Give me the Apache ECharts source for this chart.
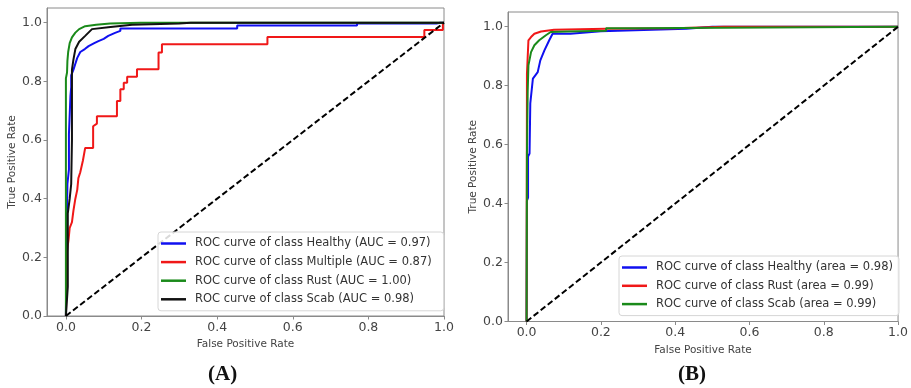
<!DOCTYPE html>
<html>
<head>
<meta charset="utf-8">
<script src="https://cdn.jsdelivr.net/npm/echarts@6/dist/echarts.min.js"></script>
<style>
  html, body { margin: 0; padding: 0; background: #fff; }
  #chart { width: 911px; height: 388px; }
</style>
</head>
<body>
<div id="chart"></div>
<script>
// tick labels shared by both panels
const TICKS = [0, 0.2, 0.4, 0.6, 0.8, 1.0]
const DIAG = [[0, 0], [1, 1]]

// panel (A): [fpr, tpr] corners
const healthyA = [[0, 0], [0.002, 0.3], [0.004, 0.45], [0.008, 0.5], [0.008, 0.62], [0.012, 0.75], [0.014, 0.78], [0.014, 0.82], [0.02, 0.84], [0.025, 0.86], [0.03, 0.88], [0.038, 0.9], [0.05, 0.91], [0.06, 0.92], [0.075, 0.93], [0.086, 0.937], [0.1, 0.945], [0.112, 0.955], [0.13, 0.965], [0.144, 0.972], [0.144, 0.98], [0.453, 0.98], [0.453, 0.99], [0.77, 0.99], [0.77, 0.997], [0.98, 0.997], [0.99, 1.0], [1, 1]]
const multipleA = [[0, 0], [0.003, 0.22], [0.007, 0.26], [0.01, 0.3], [0.016, 0.32], [0.02, 0.36], [0.025, 0.4], [0.03, 0.43], [0.033, 0.47], [0.038, 0.49], [0.045, 0.53], [0.051, 0.573], [0.072, 0.573], [0.072, 0.647], [0.082, 0.656], [0.082, 0.681], [0.135, 0.681], [0.135, 0.733], [0.144, 0.733], [0.144, 0.773], [0.153, 0.773], [0.153, 0.795], [0.162, 0.795], [0.162, 0.816], [0.188, 0.816], [0.188, 0.841], [0.245, 0.841], [0.245, 0.898], [0.254, 0.898], [0.254, 0.926], [0.533, 0.926], [0.533, 0.951], [0.948, 0.951], [0.948, 0.975], [0.997, 0.975], [0.997, 1.0], [1, 1]]
const rustA = [[0, 0], [0, 0.81], [0.003, 0.83], [0.004, 0.87], [0.006, 0.9], [0.01, 0.93], [0.016, 0.95], [0.025, 0.966], [0.035, 0.978], [0.051, 0.988], [0.08, 0.993], [0.117, 0.997], [0.197, 1.0], [1, 1]]
const scabA = [[0, 0], [0.005, 0.1], [0.005, 0.35], [0.01, 0.4], [0.014, 0.45], [0.016, 0.6], [0.016, 0.84], [0.02, 0.875], [0.025, 0.91], [0.035, 0.935], [0.051, 0.955], [0.069, 0.978], [0.112, 0.984], [0.175, 0.993], [0.3, 0.997], [0.33, 1.0], [1, 1]]

// panel (B)
const healthyB = [[0, 0], [0.001, 0.41], [0.004, 0.42], [0.004, 0.56], [0.008, 0.57], [0.01, 0.74], [0.017, 0.824], [0.03, 0.846], [0.037, 0.886], [0.048, 0.92], [0.061, 0.954], [0.07, 0.976], [0.118, 0.976], [0.118, 0.982], [0.2, 0.985], [0.2, 0.99], [0.43, 0.993], [0.5, 1.0], [1, 1]]
const rustB = [[0, 0], [0.001, 0.84], [0.005, 0.954], [0.012, 0.965], [0.021, 0.976], [0.039, 0.984], [0.074, 0.99], [0.214, 0.993], [0.4, 0.995], [0.53, 1.0], [1, 1]]
const scabB = [[0, 0], [0.001, 0.57], [0.003, 0.78], [0.005, 0.869], [0.012, 0.914], [0.021, 0.937], [0.034, 0.954], [0.052, 0.971], [0.065, 0.982], [0.109, 0.984], [0.214, 0.986], [0.214, 0.995], [0.294, 0.995], [0.294, 1.0], [1, 1]]

const NAMES_A = ['ROC curve of class Healthy (AUC = 0.97)', 'ROC curve of class Multiple (AUC = 0.87)', 'ROC curve of class Rust (AUC = 1.00)', 'ROC curve of class Scab (AUC = 0.98)']
const NAMES_B = ['ROC curve of class Healthy (area = 0.98)', 'ROC curve of class Rust (area = 0.99)', 'ROC curve of class Scab (area = 0.99)']

const FONT = 'DejaVu Sans'
const FRAME = '#8a8a8a'
const TEXT = '#444'

const chart = echarts.init(document.getElementById('chart'))

const makeX = gridIndex => ({
  type: 'value',
  gridIndex,
  min: -0.05,
  max: 1.0,
  name: 'False Positive Rate',
  nameLocation: 'middle',
  nameGap: 22,
  nameTextStyle: { fontFamily: FONT, fontSize: 10.5, color: TEXT },
  axisLine: { show: true, onZero: false, lineStyle: { color: FRAME, width: 1 } },
  axisTick: { show: true, length: 3.5, lineStyle: { color: FRAME }, customValues: TICKS },
  axisLabel: { fontFamily: FONT, fontSize: 12.5, color: TEXT, margin: 5, customValues: TICKS, formatter: v => v.toFixed(1) },
  splitLine: { show: false }
})
const makeY = gridIndex => ({
  type: 'value',
  gridIndex,
  min: 0,
  max: 1.05,
  name: 'True Positive Rate',
  nameLocation: 'middle',
  nameGap: 29,
  nameTextStyle: { fontFamily: FONT, fontSize: 10.5, color: TEXT },
  axisLine: { show: true, onZero: false, lineStyle: { color: FRAME, width: 1 } },
  axisTick: { show: true, length: 3.5, lineStyle: { color: FRAME }, customValues: TICKS },
  axisLabel: { fontFamily: FONT, fontSize: 12.5, color: TEXT, margin: 5, customValues: TICKS, formatter: v => v.toFixed(1) },
  splitLine: { show: false }
})

const curve = (name, data, color, idx) => ({
  name,
  type: 'line',
  xAxisIndex: idx,
  yAxisIndex: idx,
  data,
  color,
  symbol: 'none',
  lineStyle: { width: 2, color },
  silent: true
})
const diag = idx => ({
  type: 'line',
  xAxisIndex: idx,
  yAxisIndex: idx,
  data: DIAG,
  symbol: 'none',
  lineStyle: { width: 2, color: '#000', type: [6, 3] },
  silent: true,
  z: 3
})

const legendBase = {
  orient: 'vertical',
  icon: 'rect',
  itemWidth: 25,
  itemHeight: 2.5,
  selectedMode: false,
  borderColor: '#d6d6d6',
  borderWidth: 1,
  borderRadius: 3,
  backgroundColor: 'rgba(255,255,255,0.85)',
  textStyle: { fontFamily: FONT, fontSize: 11.5, color: '#333', padding: [0, 0, 0, 4] }
}

chart.setOption({
  animation: false,
  backgroundColor: '#fff',
  grid: [
    { left: 47, top: 8, width: 397, height: 308, show: true, borderColor: FRAME, borderWidth: 1 },
    { left: 508, top: 12, width: 397.5, height: 309.5, show: true, borderColor: FRAME, borderWidth: 1 }
  ],
  xAxis: [makeX(0), makeX(1)],
  yAxis: [makeY(0), makeY(1)],
  legend: [
    Object.assign({}, legendBase, { data: NAMES_A, left: 158, top: 232, itemGap: 6.6, padding: [5.5, 12, 5.5, 3] }),
    Object.assign({}, legendBase, { data: NAMES_B, left: 619, top: 256, itemGap: 6.3, padding: [5.5, 6, 5.5, 3] })
  ],
  graphic: [
    { type: 'text', left: 208, top: 364, style: { text: '(A)', font: 'bold 21px "Liberation Serif"', fill: '#111' } },
    { type: 'text', left: 678, top: 364, style: { text: '(B)', font: 'bold 21px "Liberation Serif"', fill: '#111' } }
  ],
  series: [
    curve(NAMES_A[0], healthyA, '#1010f0', 0),
    curve(NAMES_A[1], multipleA, '#f01818', 0),
    curve(NAMES_A[2], rustA, '#1a8a1a', 0),
    curve(NAMES_A[3], scabA, '#111', 0),
    diag(0),
    curve(NAMES_B[0], healthyB, '#1010f0', 1),
    curve(NAMES_B[1], rustB, '#f01818', 1),
    curve(NAMES_B[2], scabB, '#1a8a1a', 1),
    diag(1)
  ]
})
</script>
</body>
</html>
